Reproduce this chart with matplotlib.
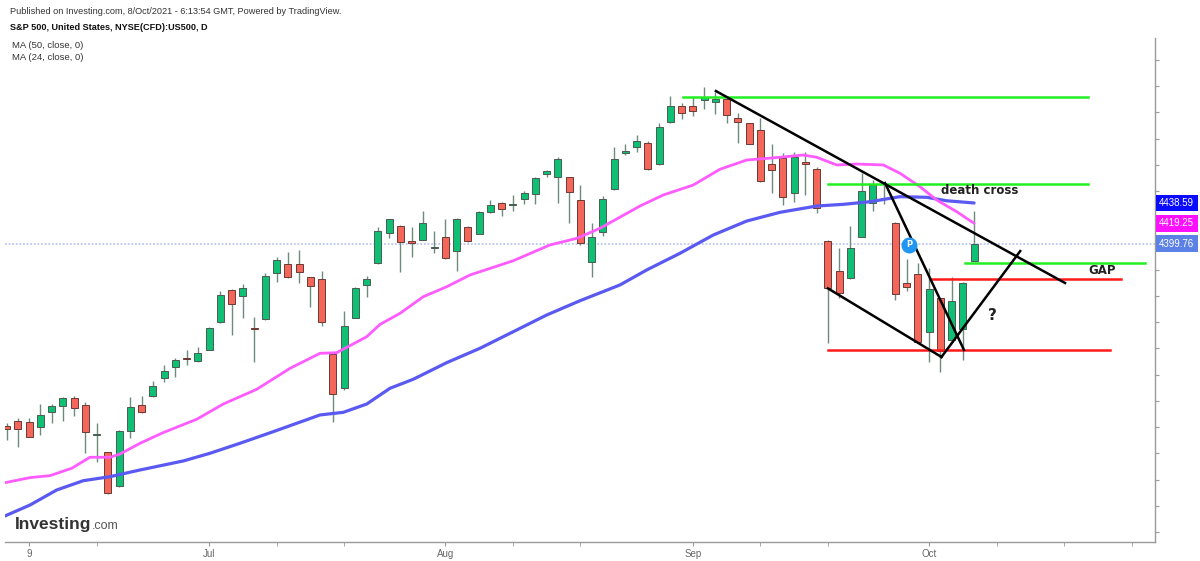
import numpy as np
import matplotlib
matplotlib.use("Agg")
import matplotlib.pyplot as plt

# S&P 500 CFD daily candles, 7 Jun - 7 Oct 2021 (x = trading day index)
opens = [4226.2, 4230.9, 4230.0, 4225.2, 4239.8, 4245.5, 4252.6, 4246.2, 4217.3, 4201.4,
         4169.0, 4221.4, 4246.2, 4254.8, 4272.2, 4282.1, 4290.7, 4288.4, 4298.6, 4324.9,
         4355.7, 4350.0, 4319.7, 4327.8, 4372.2, 4380.5, 4380.2, 4367.8, 4366.2, 4294.8,
         4262.7, 4329.3, 4360.5, 4381.1, 4409.7, 4416.7, 4402.7, 4403.6, 4395.9, 4406.5,
         4392.8, 4415.7, 4409.0, 4429.7, 4438.3, 4436.9, 4442.7, 4446.8, 4466.2, 4463.3,
         4463.0, 4441.4, 4382.1, 4410.7, 4451.6, 4486.2, 4492.2, 4495.4, 4475.4, 4515.4,
         4531.2, 4530.9, 4536.7, 4534.5, 4537.6, 4519.8, 4514.5, 4508.1, 4475.7, 4481.1,
         4448.4, 4477.9, 4470.7, 4402.7, 4374.1, 4366.8, 4406.5, 4438.3, 4442.4, 4419.8,
         4362.1, 4370.7, 4315.4, 4347.8, 4308.1, 4318.3, 4383.6]
highs = [4229.0, 4233.8, 4234.1, 4247.1, 4247.1, 4253.5, 4255.0, 4249.3, 4229.3, 4201.6,
         4222.0, 4253.5, 4255.0, 4269.3, 4284.3, 4290.7, 4298.6, 4301.7, 4320.2, 4355.0,
         4356.2, 4361.4, 4329.7, 4371.6, 4386.8, 4392.2, 4393.8, 4368.2, 4374.1, 4295.2,
         4336.0, 4358.5, 4369.0, 4415.4, 4423.5, 4417.2, 4416.0, 4430.9, 4412.2, 4423.0,
         4424.3, 4416.2, 4430.9, 4441.1, 4439.8, 4446.2, 4450.3, 4463.0, 4470.0, 4482.1,
         4463.4, 4455.7, 4419.2, 4445.2, 4491.6, 4494.5, 4503.3, 4497.6, 4515.0, 4540.5,
         4533.5, 4539.8, 4548.8, 4544.6, 4538.0, 4524.0, 4515.0, 4519.2, 4495.2, 4486.5,
         4487.4, 4487.4, 4473.1, 4403.2, 4395.4, 4416.7, 4466.9, 4460.5, 4455.7, 4420.3,
         4385.2, 4381.1, 4376.4, 4348.3, 4368.4, 4363.2, 4430.9]
lows = [4212.8, 4206.2, 4215.7, 4217.6, 4229.3, 4231.2, 4235.7, 4200.2, 4192.2, 4161.6,
        4168.0, 4214.5, 4238.3, 4254.0, 4268.4, 4273.1, 4284.3, 4286.8, 4298.2, 4324.5,
        4312.8, 4329.3, 4287.4, 4327.4, 4363.6, 4366.8, 4362.1, 4339.8, 4321.4, 4230.3,
        4260.5, 4328.8, 4349.3, 4380.7, 4405.5, 4372.6, 4387.4, 4403.2, 4390.7, 4385.2,
        4373.8, 4401.1, 4408.6, 4429.5, 4426.2, 4431.2, 4437.3, 4437.3, 4463.6, 4438.9,
        4419.2, 4398.6, 4368.4, 4407.4, 4451.2, 4484.3, 4487.4, 4470.0, 4475.0, 4515.0,
        4518.3, 4521.4, 4527.8, 4523.3, 4515.0, 4496.0, 4494.3, 4458.8, 4447.8, 4436.7,
        4439.8, 4446.2, 4428.8, 4304.9, 4347.8, 4366.4, 4406.1, 4431.2, 4437.6, 4346.2,
        4354.8, 4305.4, 4287.4, 4277.9, 4307.6, 4289.0, 4383.2]
closes = [4223.3, 4223.6, 4216.0, 4236.4, 4245.0, 4252.6, 4243.6, 4220.5, 4218.6, 4162.1,
          4221.4, 4244.0, 4239.2, 4264.3, 4278.8, 4289.0, 4289.7, 4296.0, 4319.2, 4350.9,
          4342.4, 4357.3, 4318.8, 4369.0, 4384.3, 4368.4, 4373.1, 4359.5, 4325.5, 4256.4,
          4321.4, 4357.9, 4366.2, 4411.9, 4423.0, 4401.1, 4400.5, 4419.8, 4396.9, 4386.5,
          4423.6, 4402.7, 4430.0, 4436.7, 4432.8, 4437.8, 4448.1, 4462.1, 4469.0, 4480.5,
          4449.0, 4400.8, 4405.9, 4442.1, 4480.5, 4488.1, 4497.6, 4470.9, 4511.2, 4530.9,
          4524.6, 4526.2, 4539.2, 4537.3, 4522.4, 4516.0, 4494.8, 4459.8, 4470.0, 4444.0,
          4482.1, 4475.4, 4433.5, 4357.3, 4353.1, 4396.0, 4450.0, 4455.7, 4443.6, 4351.9,
          4358.8, 4305.9, 4356.7, 4297.9, 4344.9, 4362.7, 4399.76]

# moving averages
ma50_day = [-0.14, 2.08, 4.45, 6.82, 9.19, 11.86, 15.71, 18.08, 20.74, 23.71, 27.86, 29.93,
            32.01, 34.08, 36.15, 39.12, 42.08, 45.04, 48.01, 50.97, 54.52, 56.90, 59.86,
            62.82, 65.79, 68.75, 72.01, 74.37, 76.75, 79.41, 81.79, 83.56, 86]
ma50_val = [4140.5, 4150.9, 4165.2, 4174.1, 4177.9, 4184.3, 4192.9, 4200.2, 4209.7, 4220.8,
            4236.7, 4239.2, 4247.1, 4262.1, 4270.7, 4286.5, 4300.2, 4316.0, 4331.9, 4345.5,
            4360.5, 4374.8, 4390.7, 4408.1, 4421.4, 4429.7, 4435.7, 4437.3, 4439.8, 4444.6,
            4444.0, 4440.7, 4438.59]
ma24_day = [-0.14, 2.08, 3.86, 5.79, 7.41, 9.19, 10.08, 11.86, 13.90, 16.90, 19.26, 22.23,
            25.19, 27.86, 29.34, 32.01, 33.19, 34.97, 37.04, 39.12, 41.19, 45.04, 48.30,
            50.68, 52.75, 56.30, 58.37, 61.04, 63.41, 65.79, 68.75, 70.82, 72.01, 73.79,
            75.56, 77.93, 79.41, 81.19, 82.68, 84.45, 86]
ma24_val = [4172.2, 4177.0, 4178.9, 4185.9, 4196.4, 4196.4, 4199.5, 4209.7, 4219.8, 4232.6,
            4247.1, 4261.1, 4281.1, 4295.4, 4296.0, 4311.2, 4322.9, 4333.5, 4349.3, 4358.8,
            4370.0, 4383.6, 4398.6, 4404.9, 4414.5, 4435.7, 4446.2, 4455.7, 4470.7, 4479.5,
            4482.1, 4484.3, 4482.1, 4474.8, 4475.7, 4474.8, 4466.9, 4454.1, 4441.4, 4430.3,
            4419.25]

last_price = 4399.76
ma50_last = 4438.59
ma24_last = 4419.25

tick_days = [2, 18, 39, 61, 82]
tick_labels = ["9", "Jul", "Aug", "Sep", "Oct"]
minor_days = [8, 24, 30, 45, 51, 67, 73, 88, 94, 100]

# drawn levels and trendlines (day, price)
green_levels = [(60.1, 96.1, 4539.2), (73.0, 96.1, 4457.1), (85.2, 101.2, 4381.7)]
red_levels = [(82.2, 99.1, 4366.2), (73.0, 98.1, 4298.6)]
trend_lines = [((63.05, 4545.2), (94.08, 4362.4)),
               ((78.08, 4457.6), (85.1, 4298.6)),
               ((73.0, 4357.3), (83.1, 4291.9)),
               ((83.1, 4291.9), (90.1, 4392.8))]

up_col = "#0fbf74"
down_col = "#f4665a"

fig = plt.figure(figsize=(12, 5.61), dpi=100)
ax = fig.add_axes([5 / 1200, 1 - 542 / 561, 1150 / 1200, (542 - 37.5) / 561])

days = np.arange(len(opens))
o = np.array(opens)
c = np.array(closes)
up = c >= o
body_bottom = np.minimum(o, c)
body_height = np.maximum(np.abs(c - o), 0.6)

ax.vlines(days, lows, highs, color="#6d8a7b", lw=1.0, zorder=2)
ax.bar(days[up], body_height[up], bottom=body_bottom[up], width=0.62,
       color=up_col, edgecolor="#4a5c52", linewidth=0.7, zorder=3)
ax.bar(days[~up], body_height[~up], bottom=body_bottom[~up], width=0.62,
       color=down_col, edgecolor="#6a3a34", linewidth=0.7, zorder=3)

ax.plot(ma50_day, ma50_val, color="#5a5af2", lw=2.3, zorder=4, solid_capstyle="round")
ax.plot(ma24_day, ma24_val, color="#ff5cff", lw=2.0, zorder=4, solid_capstyle="round")

ax.axhline(last_price, color="#bcc6f2", lw=1.3, ls=(0, (1, 1)), zorder=1)

for x0, x1, y in green_levels:
    ax.plot([x0, x1], [y, y], color="#22ee22", lw=1.8, zorder=5)
for x0, x1, y in red_levels:
    ax.plot([x0, x1], [y, y], color="#ff1a1a", lw=1.8, zorder=5)
for (x0, y0), (x1, y1) in trend_lines:
    ax.plot([x0, x1], [y0, y1], color="black", lw=1.8, zorder=6)

ax.text(86.5, 4450.3, "death cross", fontsize=8.5, fontweight="bold", color="#222222",
        ha="center", va="center", zorder=7)
ax.text(97.4, 4374.1, "GAP", fontsize=8.5, fontweight="bold", color="#222222",
        ha="center", va="center", zorder=7)
ax.text(87.6, 4331.9, "?", fontsize=11, fontweight="bold", color="#222222",
        ha="center", va="center", zorder=7)

ax.plot([80.2], [4398.6], "o", ms=10.5, color="#2196f3", zorder=7)
ax.text(80.2, 4399.0, "P", fontsize=6, fontweight="bold", color="white",
        ha="center", va="center", zorder=8)

ax.set_xlim(-0.14, 102.08)
ax.set_ylim(4115.7, 4596.2)

for s in ["top", "left"]:
    ax.spines[s].set_visible(False)
for s in ["right", "bottom"]:
    ax.spines[s].set_color("#9a9a9a")
    ax.spines[s].set_linewidth(1.0)

ax.yaxis.tick_right()
ax.set_yticks(np.arange(4125, 4600, 25))
ax.tick_params(axis="y", which="both", length=3, color="#9a9a9a", labelright=False)
ax.set_xticks(tick_days)
ax.set_xticklabels(tick_labels, fontsize=7, color="#666666", family="Liberation Sans")
ax.set_xticks(minor_days, minor=True)
ax.tick_params(axis="x", which="both", length=3, color="#9a9a9a", pad=2)

tags = [(ma50_last, "#0a0aff"), (ma24_last, "#ff10ff"), (last_price, "#5b80e6")]
for val, col in tags:
    ax.annotate(f"{val:.2f}", xy=(1.0, val), xycoords=("axes fraction", "data"),
                xytext=(3, 0), textcoords="offset points", ha="left", va="center",
                fontsize=7, color="white", family="Liberation Sans", annotation_clip=False,
                bbox=dict(boxstyle="square,pad=0.35", fc=col, ec="none"))

fig.text(10 / 1200, 1 - 11 / 561,
         "Published on Investing.com, 8/Oct/2021 - 6:13:54 GMT, Powered by TradingView.",
         fontsize=6.6, color="#333333", family="Liberation Sans", va="center")
fig.text(10 / 1200, 1 - 27 / 561, "S&P 500, United States, NYSE(CFD):US500, D",
         fontsize=6.6, fontweight="bold", color="#111111", family="Liberation Sans",
         va="center")
fig.text(12 / 1200, 1 - 46 / 561, "MA (50, close, 0)", fontsize=6.8, color="#333333",
         family="Liberation Sans", va="center")
fig.text(12 / 1200, 1 - 58 / 561, "MA (24, close, 0)", fontsize=6.8, color="#333333",
         family="Liberation Sans", va="center")

logo = fig.text(15 / 1200, 1 - 524 / 561, "Investing", fontsize=12.5, fontweight="bold",
                color="#333333", family="Liberation Sans", va="center")
fig.canvas.draw()
bb = logo.get_window_extent()
fig.text(bb.x1 / 1200, 1 - 526 / 561, ".com", fontsize=9, color="#555555",
         family="Liberation Sans", va="center")

fig.savefig("out.png", dpi=100, facecolor="white")
